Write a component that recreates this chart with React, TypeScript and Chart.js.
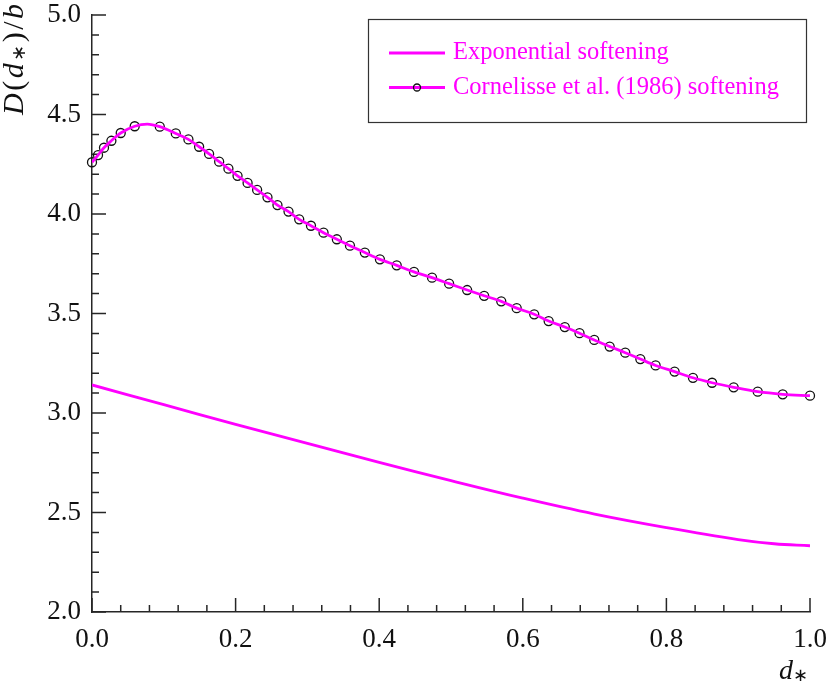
import React, { useEffect, useRef } from "react";
import { Chart, registerables } from "chart.js";

Chart.register(...registerables);

// ---- Data ----
const expX = [0, 0.1, 0.2, 0.3, 0.4, 0.5, 0.6, 0.7, 0.8, 0.9, 0.95, 1.0];
const expY = [3.141, 3.042, 2.943, 2.847, 2.752, 2.66, 2.572, 2.492, 2.424, 2.364, 2.343, 2.333];

const corX = [
  0.0, 0.0084, 0.0167, 0.027, 0.04, 0.0595, 0.0944, 0.1167, 0.1343, 0.1492,
  0.1631, 0.1771, 0.19, 0.2027, 0.2167, 0.23, 0.2444, 0.2583, 0.2737, 0.2886,
  0.305, 0.3225, 0.341, 0.3593, 0.38, 0.401, 0.4244, 0.4485, 0.4736, 0.4974,
  0.5225, 0.5462, 0.57, 0.5915, 0.6159, 0.636, 0.6585, 0.679, 0.6995, 0.721,
  0.7427, 0.7637, 0.785, 0.8114, 0.837, 0.8636, 0.8937, 0.9272, 0.962, 1.0,
];
const corY = [
  4.26, 4.296, 4.333, 4.368, 4.407, 4.441, 4.439, 4.405, 4.375, 4.338,
  4.302, 4.263, 4.228, 4.192, 4.156, 4.121, 4.084, 4.045, 4.012, 3.973,
  3.941, 3.906, 3.873, 3.841, 3.806, 3.772, 3.742, 3.709, 3.68, 3.65,
  3.618, 3.589, 3.561, 3.527, 3.496, 3.462, 3.432, 3.401, 3.367, 3.334,
  3.303, 3.271, 3.239, 3.208, 3.177, 3.152, 3.129, 3.107, 3.094, 3.087,
];
// the curve's peak lies between two markers
const corPeakX = 0.077;
const corPeakY = 4.452;

const xTicks = [0.0, 0.2, 0.4, 0.6, 0.8, 1.0];
const yTicks = [2.0, 2.5, 3.0, 3.5, 4.0, 4.5, 5.0];
const xMinorStep = 0.04;
const yMinorStep = 0.1;

const legendLabels = ["Exponential softening", "Cornelisse et al. (1986) softening"];

export default function App() {
  const ref = useRef<HTMLCanvasElement>(null);

  useEffect(() => {
    const canvas = ref.current;
    if (!canvas) return;
    const magenta = "#ff00ff";
    const axisColor = "#262626";
    const serif = '"Liberation Serif", "Times New Roman", serif';

    const expData = expX.map((x, i) => ({ x, y: expY[i] }));
    const corMarkers = corX.map((x, i) => ({ x, y: corY[i] }));
    const corCurve = [...corMarkers, { x: corPeakX, y: corPeakY }].sort((a, b) => a.x - b.x);

    const isMajor = (v: number, arr: number[]) => arr.some((t) => Math.abs(t - v) < 1e-6);

    type Seg = { t: string; font: string; dy?: number };
    const drawSegs = (ctx: CanvasRenderingContext2D, segs: Seg[], x0: number, y0: number, total?: number) => {
      let w = 0;
      for (const s of segs) {
        ctx.font = s.font;
        w += ctx.measureText(s.t).width;
      }
      const gap = total && segs.length > 1 ? Math.max(0, (total - w) / (segs.length - 1)) : 0;
      let x = x0;
      for (const s of segs) {
        ctx.font = s.font;
        ctx.fillText(s.t, x, y0 + (s.dy || 0));
        x += ctx.measureText(s.t).width + gap;
      }
    };

    const decor = {
      id: "decor",
      beforeDatasetsDraw(chart: any) {
        const ctx: CanvasRenderingContext2D = chart.ctx;
        const xs = chart.scales.x;
        const ys = chart.scales.y;
        const { left, bottom } = chart.chartArea;
        ctx.save();
        ctx.strokeStyle = axisColor;
        ctx.lineWidth = 1.5;
        ctx.beginPath();
        const nx = Math.round((xs.max - xs.min) / xMinorStep);
        for (let i = 0; i <= nx; i++) {
          const v = xs.min + i * xMinorStep;
          const px = xs.getPixelForValue(v);
          const len = isMajor(v, xTicks) ? 14 : 7;
          ctx.moveTo(px, bottom);
          ctx.lineTo(px, bottom - len);
        }
        const ny = Math.round((ys.max - ys.min) / yMinorStep);
        for (let i = 0; i <= ny; i++) {
          const v = ys.min + i * yMinorStep;
          const py = ys.getPixelForValue(v);
          const len = isMajor(v, yTicks) ? 14 : 7;
          ctx.moveTo(left, py);
          ctx.lineTo(left + len, py);
        }
        ctx.stroke();
        ctx.restore();
      },
      afterDraw(chart: any) {
        const ctx: CanvasRenderingContext2D = chart.ctx;
        const { right, top, left, bottom } = chart.chartArea;
        ctx.save();
        // legend box
        const bx = right - 442;
        const by = top + 4;
        const bw = 438;
        const bh = 103;
        ctx.fillStyle = "#ffffff";
        ctx.fillRect(bx, by, bw, bh);
        ctx.strokeStyle = "#333333";
        ctx.lineWidth = 1.2;
        ctx.strokeRect(bx + 0.5, by + 0.5, bw, bh);

        const rows = [by + 34, by + 68.5];
        ctx.strokeStyle = magenta;
        ctx.lineWidth = 2.8;
        rows.forEach((ry) => {
          ctx.beginPath();
          ctx.moveTo(bx + 21, ry);
          ctx.lineTo(bx + 77, ry);
          ctx.stroke();
        });
        ctx.strokeStyle = "#111111";
        ctx.lineWidth = 1.3;
        ctx.beginPath();
        ctx.arc(bx + 49, rows[1], 3.5, 0, Math.PI * 2);
        ctx.stroke();

        ctx.fillStyle = magenta;
        ctx.font = `24.5px ${serif}`;
        ctx.textBaseline = "alphabetic";
        ctx.textAlign = "left";
        legendLabels.forEach((lab, i) => ctx.fillText(lab, bx + 85, rows[i] + 6));

        // axis titles
        ctx.fillStyle = "#111111";
        const it = `italic 30px ${serif}`;
        const rg = `30px ${serif}`;
        const st = `19px "DejaVu Sans", sans-serif`;
        ctx.save();
        ctx.translate(left - 69, top + 100);
        ctx.rotate(-Math.PI / 2);
        drawSegs(
          ctx,
          [
            { t: "D", font: it },
            { t: "(", font: rg },
            { t: "d", font: it },
            { t: "\u2217", font: st, dy: 2 },
            { t: ")", font: rg },
            { t: "/", font: rg },
            { t: "b", font: it },
          ],
          0,
          0,
          111
        );
        ctx.restore();
        drawSegs(
          ctx,
          [
            { t: "d", font: `italic 28px ${serif}` },
            { t: "\u2217", font: `18px "DejaVu Sans", sans-serif`, dy: 2 },
          ],
          right - 31,
          bottom + 67
        );
        ctx.restore();
      },
    };

    const chart = new Chart(canvas, {
      type: "line",
      data: {
        datasets: [
          {
            label: legendLabels[0],
            data: expData,
            borderColor: magenta,
            borderWidth: 2.8,
            pointRadius: 0,
            tension: 0.4,
            fill: false,
          },
          {
            label: legendLabels[1],
            data: corCurve,
            borderColor: magenta,
            borderWidth: 2.8,
            pointRadius: 0,
            cubicInterpolationMode: "monotone",
            fill: false,
          },
          {
            label: legendLabels[1] + " markers",
            data: corMarkers,
            showLine: false,
            pointRadius: 4.5,
            pointBorderWidth: 1.3,
            pointBorderColor: "#111111",
            pointBackgroundColor: "rgba(0,0,0,0)",
            clip: false,
          } as any,
        ],
      },
      options: {
        responsive: false,
        animation: false,
        events: [],
        layout: { padding: { top: 15, right: 22, bottom: 0, left: 0 } },
        plugins: { legend: { display: false }, tooltip: { enabled: false } },
        scales: {
          x: {
            type: "linear",
            min: 0,
            max: 1,
            grid: { display: false, drawTicks: false },
            border: { display: true, color: axisColor, width: 1.5 },
            afterBuildTicks: (s: any) => {
              s.ticks = xTicks.map((v) => ({ value: v }));
            },
            afterFit: (s: any) => {
              s.height = 75;
              s.paddingLeft = 0;
              s.paddingRight = 0;
            },
            ticks: {
              color: "#111111",
              padding: 12,
              maxRotation: 0,
              font: { family: serif, size: 27 },
              callback: (v: any) => Number(v).toFixed(1),
            },
          },
          y: {
            type: "linear",
            min: 2,
            max: 5,
            grid: { display: false, drawTicks: false },
            border: { display: true, color: axisColor, width: 1.5 },
            afterBuildTicks: (s: any) => {
              s.ticks = yTicks.map((v) => ({ value: v }));
            },
            afterFit: (s: any) => {
              s.width = 92;
              s.paddingTop = 0;
              s.paddingBottom = 0;
            },
            ticks: {
              color: "#111111",
              padding: 11,
              font: { family: serif, size: 27 },
              callback: (v: any) => Number(v).toFixed(1),
            },
          },
        },
      },
      plugins: [decor],
    });

    return () => chart.destroy();
  }, []);

  return (
    <div style={{ position: "absolute", left: 0, top: 0, width: 832, height: 687, background: "#fff" }}>
      <canvas ref={ref} width={832} height={687} />
    </div>
  );
}
